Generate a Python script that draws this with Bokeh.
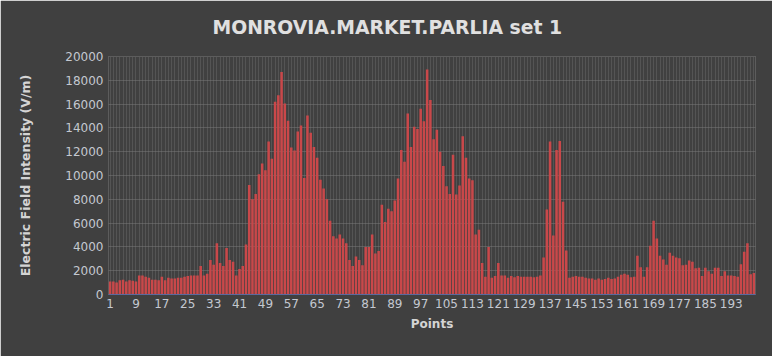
from bokeh.plotting import figure
from bokeh.models import FixedTicker, Range1d
from bokeh.embed import file_html
from bokeh.resources import INLINE

points = list(range(1, 201))
values = [
    1100, 1100, 1000, 1200, 1250, 1100, 1200, 1150, 1100, 1600,
    1600, 1500, 1400, 1250, 1250, 1200, 1500, 1200, 1400, 1350,
    1350, 1400, 1400, 1500, 1550, 1600, 1600, 1600, 2400, 1600,
    1750, 2900, 2500, 4300, 2650, 2400, 3900, 2900, 2750, 1600,
    2150, 2400, 4200, 9200, 8000, 8450, 10100, 11000, 10450, 12850,
    11400, 16200, 16750, 18700, 16050, 14600, 12350, 12100, 13700, 14200,
    9800, 15050, 13600, 12400, 11500, 9650, 8900, 8000, 6200, 4900,
    4700, 5050, 4700, 4300, 2900, 2400, 3200, 2900, 2450, 4000,
    4000, 5050, 3450, 3650, 7550, 6100, 7200, 7000, 7900, 9750,
    12150, 11150, 15200, 12400, 14100, 13900, 15600, 14550, 18900, 16350,
    13050, 13850, 12000, 10800, 9100, 8450, 11750, 8400, 9150, 13300,
    11500, 9750, 9600, 5050, 5450, 2650, 1500, 4000, 1400, 1550,
    2650, 1600, 1600, 1400, 1550, 1450, 1550, 1500, 1500, 1500,
    1500, 1450, 1500, 1600, 3100, 7150, 12850, 4950, 12150, 12900,
    7800, 3700, 1400, 1500, 1550, 1500, 1500, 1400, 1350, 1350,
    1250, 1350, 1250, 1300, 1400, 1300, 1350, 1500, 1650, 1750,
    1650, 1450, 1500, 3250, 2300, 1500, 2300, 4100, 6200, 4700,
    3250, 2950, 2500, 3500, 3250, 3100, 3050, 2450, 2500, 2850,
    2750, 2200, 2250, 1550, 2250, 1950, 1750, 2250, 2250, 1550,
    1950, 1600, 1600, 1550, 1500, 2550, 3600, 4300, 1700, 1800,
]
x_ticks = list(range(1, 201, 8))
y_ticks = list(range(0, 20001, 2000))
title_text = "MONROVIA.MARKET.PARLIA set 1"

BG = "#404040"
FONT = "DejaVu Sans"

p = figure(width=772, height=356, output_backend="svg", toolbar_location=None,
           x_range=Range1d(0.5, 200.5), y_range=Range1d(0, 20000),
           min_border_left=108, min_border_right=17, min_border_top=56,
           min_border_bottom=62,
           background_fill_color=BG, border_fill_color=BG,
           outline_line_color="#5c5c5c")

p.vbar(x=points, top=values, bottom=0, width=0.78,
       fill_color="#c9484a", line_color=None)

p.title.text = title_text
p.title.text_font = FONT
p.title.text_font_size = "18.8px"
p.title.text_font_style = "bold"
p.title.text_color = "#e0e0e0"
p.title.align = "left"
p.title.offset = 104
p.title.standoff = 0
p.title.padding = dict(left=0, right=0, top=0, bottom=19)

# grids
p.xgrid.ticker = FixedTicker(ticks=points)
p.xgrid.grid_line_color = "#686868"
p.xgrid.grid_line_dash = "1 1"
p.ygrid.ticker = FixedTicker(ticks=y_ticks)
p.ygrid.grid_line_color = "#7a7a7a"
p.ygrid.grid_line_dash = "1 1"

# axes
p.xaxis.ticker = FixedTicker(ticks=x_ticks)
p.yaxis.ticker = FixedTicker(ticks=y_ticks)
for ax in (p.xaxis[0], p.yaxis[0]):
    ax.major_tick_out = 0
    ax.major_tick_in = 0
    ax.minor_tick_out = 0
    ax.minor_tick_in = 0
    ax.major_label_text_font = FONT
    ax.major_label_text_font_size = "12px"
    ax.major_label_text_color = "#c4c8d0"
    ax.axis_label_text_font = FONT
    ax.axis_label_text_font_style = "bold"
    ax.axis_label_text_color = "#d4d4d4"

p.xaxis.axis_line_color = "#5a6aa0"
p.yaxis.axis_line_color = None
p.xaxis.major_label_standoff = 4
p.yaxis.major_label_standoff = 5
p.xaxis.axis_label = "Points"
p.xaxis.axis_label_text_font_size = "12px"
p.xaxis.axis_label_standoff = 6
p.yaxis.axis_label = "Electric Field Intensity (V/m)"
p.yaxis.axis_label_text_font_size = "12.5px"
p.yaxis.axis_label_standoff = 29

open("out.html", "w").write(file_html(p, INLINE))
